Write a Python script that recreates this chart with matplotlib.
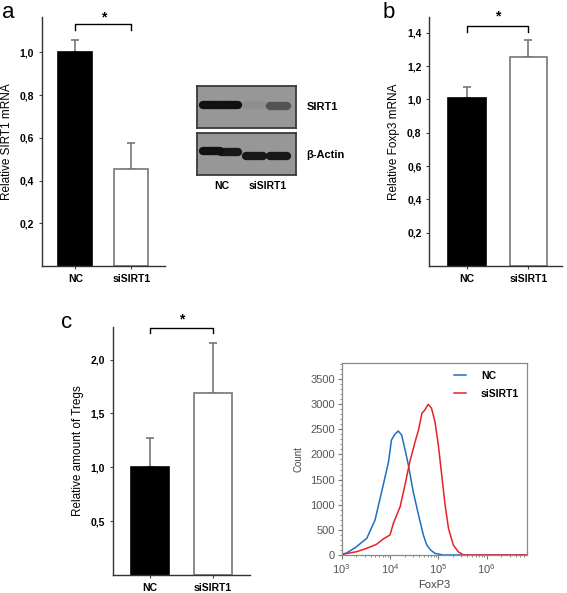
import numpy as np
import matplotlib.pyplot as plt

plt.rcParams['font.family'] = ['Liberation Sans', 'DejaVu Sans']
plt.rcParams['mathtext.default'] = 'regular'

# ---- data ----
groups = ['NC', 'siSIRT1']

sirt1_mrna = [1.0, 0.455]
sirt1_err = [0.056, 0.12]

foxp3_mrna = [1.01, 1.256]
foxp3_err = [0.066, 0.10]

tregs = [1.0, 1.687]
tregs_err = [0.27, 0.47]

# western blot: band intensity per lane (lanes 1-2 NC, 3-4 siSIRT1)
blot_lanes = [0.15, 0.33, 0.58, 0.82]
blot_sirt1 = [1.0, 1.0, 0.06, 0.5]
blot_actin = [1.0, 0.95, 0.95, 0.95]

# flow histogram (log10 FoxP3, count)
nc_logx = [3.00, 3.10, 3.28, 3.52, 3.69, 3.86, 3.97, 4.03, 4.10, 4.17, 4.24,
           4.31, 4.38, 4.48, 4.59, 4.69, 4.76, 4.84, 4.93, 5.10, 6.84]
nc_count = [10, 40, 145, 332, 696, 1392, 1856, 2287, 2400, 2466, 2387,
            2100, 1790, 1259, 796, 398, 199, 100, 33, 0, 0]
si_logx = [3.00, 3.31, 3.52, 3.72, 3.86, 4.00, 4.07, 4.14, 4.21, 4.31, 4.41,
           4.52, 4.59, 4.66, 4.72, 4.79, 4.86, 4.93, 5.00, 5.07, 5.14, 5.21,
           5.31, 5.41, 5.52, 6.84]
si_count = [10, 66, 133, 212, 318, 398, 630, 796, 961, 1392, 1856,
            2254, 2486, 2818, 2884, 2997, 2917, 2652, 2188, 1591, 995, 531,
            199, 66, 0, 0]


def bar_panel(ax, vals, errs, ylim, yticks, ylabel, bracket_y, drop, star_y):
    x = np.arange(len(vals))
    ax.bar(x, vals, width=0.61, color=['black', 'white'],
           edgecolor=['black', '#777777'], linewidth=1.2, zorder=2)
    ax.errorbar(x, vals, yerr=[np.zeros(len(errs)), errs], fmt='none',
                ecolor='#777777', elinewidth=1.2, capsize=3, capthick=1.2,
                zorder=1)
    ax.plot([0, 0, 1, 1], [bracket_y - drop, bracket_y, bracket_y, bracket_y - drop],
            color='black', lw=1, clip_on=False)
    ax.text(0.5, star_y, '*', ha='center', va='center', fontsize=10,
            fontweight='bold', clip_on=False)
    ax.set_xlim(-0.6, 1.6)
    ax.set_ylim(*ylim)
    ax.set_yticks(yticks)
    ax.set_yticklabels([('%.1f' % t).replace('.', ',') for t in yticks])
    ax.set_xticks(x)
    ax.set_xticklabels(groups)
    for lab in ax.get_xticklabels() + ax.get_yticklabels():
        lab.set_fontweight('bold')
        lab.set_fontsize(7.5)
    ax.tick_params(length=2.5, width=0.8, color='#444444', pad=3)
    ax.spines['top'].set_visible(False)
    ax.spines['right'].set_visible(False)
    for s in ['left', 'bottom']:
        ax.spines[s].set_color('#333333')
        ax.spines[s].set_linewidth(1.0)
    ax.set_ylabel(ylabel, fontsize=8.5, labelpad=5)


fig = plt.figure(figsize=(5.67, 5.93), dpi=100)

# panel a
ax_a = fig.add_axes([0.0735, 0.5514, 0.2175, 0.4199])
bar_panel(ax_a, sirt1_mrna, sirt1_err, (0, 1.165), [0.2, 0.4, 0.6, 0.8, 1.0],
          'Relative SIRT1 mRNA', 1.13, 0.025, 1.165)

# panel b
ax_b = fig.add_axes([0.757, 0.5514, 0.2335, 0.4199])
bar_panel(ax_b, foxp3_mrna, foxp3_err, (0, 1.494), [0.2, 0.4, 0.6, 0.8, 1.0, 1.2, 1.4],
          'Relative Foxp3 mRNA', 1.44, 0.035, 1.50)
ax_b.set_xlim(-0.61, 1.54)

# panel c
ax_c = fig.add_axes([0.1988, 0.0304, 0.2421, 0.4177])
bar_panel(ax_c, tregs, tregs_err, (0, 2.30), [0.5, 1.0, 1.5, 2.0],
          'Relative amount of Tregs', 2.29, 0.045, 2.37)

# western blot
blots = [(0.7847, blot_sirt1, [0.55, 0.55, 0.55, 0.52]),
         (0.7049, blot_actin, [0.56, 0.55, 0.45, 0.45])]
for bottom, vals, ys in blots:
    axw = fig.add_axes([0.3469, bottom, 0.1751, 0.0710])
    axw.set_facecolor('#979797')
    axw.set_xlim(0, 1)
    axw.set_ylim(0, 1)
    axw.set_xticks([])
    axw.set_yticks([])
    for s in axw.spines.values():
        s.set_color('#3a3a3a')
        s.set_linewidth(1.3)
    for lx, inten, ly in zip(blot_lanes, vals, ys):
        axw.plot([lx - 0.085, lx + 0.085], [ly, ly], color='#111111',
                 alpha=inten, lw=6, solid_capstyle='round')

fig.text(306.7 / 567, 1 - 107 / 593, 'SIRT1', fontsize=8, fontweight='bold',
         ha='left', va='center')
fig.text(306.7 / 567, 1 - 155 / 593, 'β-Actin', fontsize=8, fontweight='bold',
         ha='left', va='center')
fig.text(222 / 567, 1 - 186 / 593, 'NC', fontsize=7.5, fontweight='bold',
         ha='center', va='center')
fig.text(268 / 567, 1 - 186 / 593, 'siSIRT1', fontsize=7.5, fontweight='bold',
         ha='center', va='center')

# flow histogram
ax_d = fig.add_axes([0.6026, 0.0641, 0.3273, 0.3243])
ax_d.plot(np.power(10.0, nc_logx), nc_count, color='#1f6fc0', lw=1.1, label='NC')
ax_d.plot(np.power(10.0, si_logx), si_count, color='#e8202a', lw=1.1, label='siSIRT1')
ax_d.set_xscale('log')
ax_d.set_xlim(1e3, 10 ** 6.84)
ax_d.set_ylim(0, 3825)
ax_d.set_yticks(np.arange(0, 3501, 500))
ax_d.set_yticks(np.arange(0, 3801, 100), minor=True)
ax_d.set_xticks([1e3, 1e4, 1e5, 1e6])
for s in ax_d.spines.values():
    s.set_color('#888888')
    s.set_linewidth(0.9)
ax_d.tick_params(which='major', length=3, width=0.8, color='#777777',
                 labelsize=8, labelcolor='#555555', pad=2)
ax_d.tick_params(which='minor', length=1.5, width=0.6, color='#777777')
ax_d.set_ylabel('Count', fontsize=7, color='#444444', labelpad=5)
ax_d.set_xlabel('FoxP3', fontsize=8, color='#444444', labelpad=3)
ax_d.legend(loc='upper right', frameon=False, handlelength=1.2,
            borderaxespad=0.4, labelspacing=0.75, handletextpad=1.4,
            prop={'size': 7.5, 'weight': 'bold'})

# panel letters
fig.text(0.003, 0.997, 'a', fontsize=16, ha='left', va='top')
fig.text(383 / 567, 0.997, 'b', fontsize=16, ha='left', va='top')
fig.text(61 / 567, 1 - 312 / 593, 'c', fontsize=16, ha='left', va='top')

fig.savefig('out.png', dpi=100)
